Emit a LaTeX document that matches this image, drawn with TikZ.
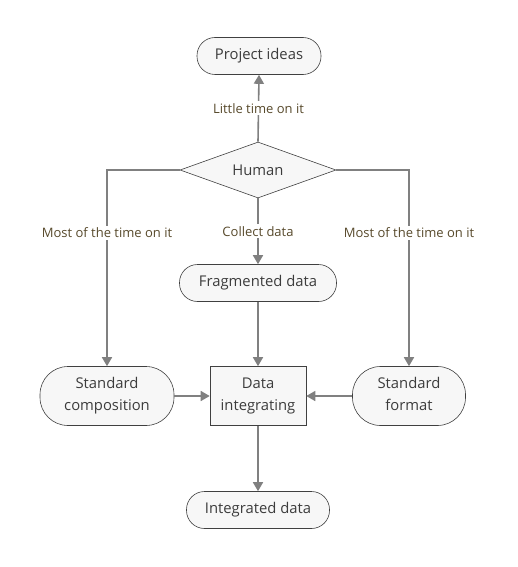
\documentclass[tikz,border=0pt]{standalone}
\usepackage{fontspec}
\setmainfont{Open Sans}
\usetikzlibrary{shapes.geometric,arrows.meta}

\definecolor{linegray}{RGB}{128,128,128}
\definecolor{boxfill}{RGB}{247,247,247}
\definecolor{boxdraw}{RGB}{64,64,64}
\definecolor{textgray}{RGB}{60,60,60}
\definecolor{labelbrown}{RGB}{88,74,44}

\tikzset{
    flowline/.style={draw=linegray, line width=1.6pt, -{Triangle[length=9pt,width=10pt]}},
    pill/.style={draw=boxdraw, fill=boxfill, line width=0.6pt, rounded corners=18pt,
        minimum height=37pt, inner sep=0pt, text=textgray, font=\fontsize{14.8}{22}\selectfont},
    bigpill/.style={pill, rounded corners=28pt, minimum height=59pt, align=center, text depth=4pt},
    procbox/.style={draw=boxdraw, fill=boxfill, line width=0.6pt, minimum width=96pt,
        minimum height=59pt, inner sep=0pt, align=center, text depth=4pt, text=textgray,
        font=\fontsize{14.8}{22}\selectfont},
    decision/.style={diamond, draw=boxdraw, fill=boxfill, line width=0.6pt, inner sep=0pt,
        aspect=2.8, minimum width=156pt, minimum height=56pt, text=textgray,
        font=\fontsize{14.8}{22}\selectfont},
    edgelabel/.style={fill=white, text=labelbrown, inner sep=2pt, font=\fontsize{13}{15}\selectfont}
}

\begin{document}
\begin{tikzpicture}[x=1pt, y=-1pt]
    \useasboundingbox (0,0) rectangle (518,567);

    % Top node
    \node (ideas) at (259,56) [pill, minimum width=124pt] {Project ideas};

    % Decision
    \node (human) at (258,170) [decision] {Human};

    % Middle row
    \node (frag) at (258,283) [pill, minimum width=157pt] {Fragmented data};
    \node (comp) at (107,396) [bigpill, minimum width=134pt] {Standard\\composition};
    \node (integ) at (258,396) [procbox] {Data\\integrating};
    \node (format) at (409,396) [bigpill, minimum width=113pt] {Standard\\format};

    % Bottom node
    \node (result) at (258,510) [pill, minimum width=143pt] {Integrated data};

    % Arrows
    % human to ideas
    \draw[flowline] (human.north) -- (ideas.south) node[midway, edgelabel] {Little time on it};
    % human to the three branches
    \draw[flowline] (human.west) -| (comp.north) node[pos=0.66, edgelabel] {Most of the time on it};
    \draw[flowline] (human.south) -- (frag.north) node[midway, edgelabel] {Collect data};
    \draw[flowline] (human.east) -| (format.north) node[pos=0.66, edgelabel] {Most of the time on it};

    % into data integrating
    \draw[flowline] (frag.south) -- (integ.north);
    \draw[flowline] (comp.east) -- (integ.west);
    \draw[flowline] (format.west) -- (integ.east);

    % result
    \draw[flowline] (integ.south) -- (result.north);

\end{tikzpicture}
\end{document}
